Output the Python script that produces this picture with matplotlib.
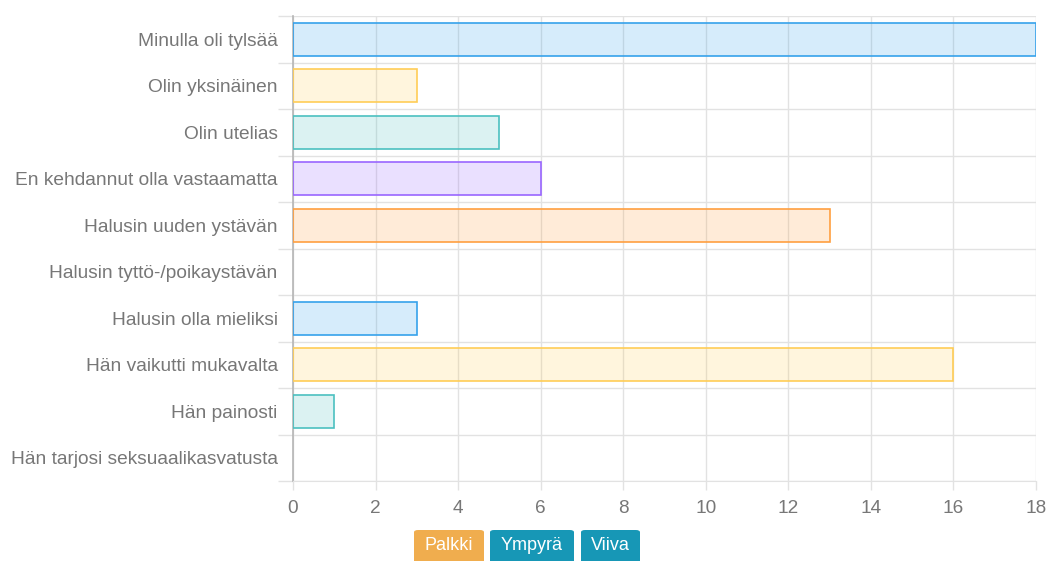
import numpy as np
import matplotlib
matplotlib.use('Agg')
import matplotlib.pyplot as plt
from matplotlib.patches import FancyBboxPatch

# Data
categories = ['Minulla oli tylsää', 'Olin yksinäinen', 'Olin utelias',
              'En kehdannut olla vastaamatta', 'Halusin uuden ystävän',
              'Halusin tyttö-/poikaystävän', 'Halusin olla mieliksi',
              'Hän vaikutti mukavalta', 'Hän painosti',
              'Hän tarjosi seksuaalikasvatusta']
values = [18, 3, 5, 6, 13, 0, 3, 16, 1, 0]
edge_colors = ['#36a2eb', '#ffcd56', '#4bc0c0', '#9966ff', '#ff9f40',
               '#ff6384', '#36a2eb', '#ffcd56', '#4bc0c0', '#9966ff']
x_ticks = [0, 2, 4, 6, 8, 10, 12, 14, 16, 18]
buttons = ['Palkki', 'Ympyrä', 'Viiva']
button_colors = ['#f0ad4e', '#1797b6', '#1797b6']

plt.rcParams['font.family'] = ['Liberation Sans', 'DejaVu Sans']

W, H = 1054, 561
fig = plt.figure(figsize=(W / 100, H / 100), dpi=100)
ax = fig.add_axes([293 / W, 1 - 481 / H, (1036 - 293) / W, (481 - 16) / H])

grid_c = '#e2e2e2'
text_c = '#777777'
y = np.arange(len(categories))
for yi, v, c in zip(y, values, edge_colors):
    if v > 0:
        ax.barh(yi, v, height=0.71, color=matplotlib.colors.to_rgba(c, 0.2),
                edgecolor=c, linewidth=1.2, zorder=3)

ax.set_xlim(0, 18)
ax.set_ylim(len(categories) - 0.5, -0.5)

ax.set_xticks(x_ticks)
ax.set_xticklabels([str(t) for t in x_ticks])
ax.set_yticks(y)
ax.set_yticklabels(categories)
ax.set_yticks(np.arange(len(categories) + 1) - 0.5, minor=True)

ax.tick_params(axis='y', which='major', length=0, pad=11, labelsize=13.8, labelcolor=text_c)
ax.tick_params(axis='y', which='minor', length=11, width=1, color=grid_c)
ax.tick_params(axis='x', which='major', length=6.5, width=1, color=grid_c, pad=7,
               labelsize=13.7, labelcolor=text_c)

ax.grid(True, axis='x', which='major', color=grid_c, linewidth=1, zorder=0)
ax.grid(True, axis='y', which='minor', color=grid_c, linewidth=1, zorder=0)
ax.grid(False, axis='y', which='major')
ax.set_axisbelow(True)

for s in ['top', 'right']:
    ax.spines[s].set_visible(False)
ax.spines['bottom'].set_color(grid_c)
ax.spines['left'].set_color('#b5b5b5')
ax.spines['left'].set_linewidth(1.2)

# Buttons under the chart
x_spans = [(414, 484), (490, 574), (581, 640)]
for (x0, x1), label, bc in zip(x_spans, buttons, button_colors):
    box = FancyBboxPatch((x0 / W, 1 - 566 / H), (x1 - x0) / W, 36 / H,
                         boxstyle='round,pad=0,rounding_size=0.004',
                         transform=fig.transFigure, facecolor=bc,
                         edgecolor='none', clip_on=False)
    fig.patches.append(box)
    fig.text((x0 + x1) / 2 / W, 1 - 546 / H, label, color='white',
             fontsize=13, ha='center', va='center')

fig.savefig('out.png', dpi=100)
